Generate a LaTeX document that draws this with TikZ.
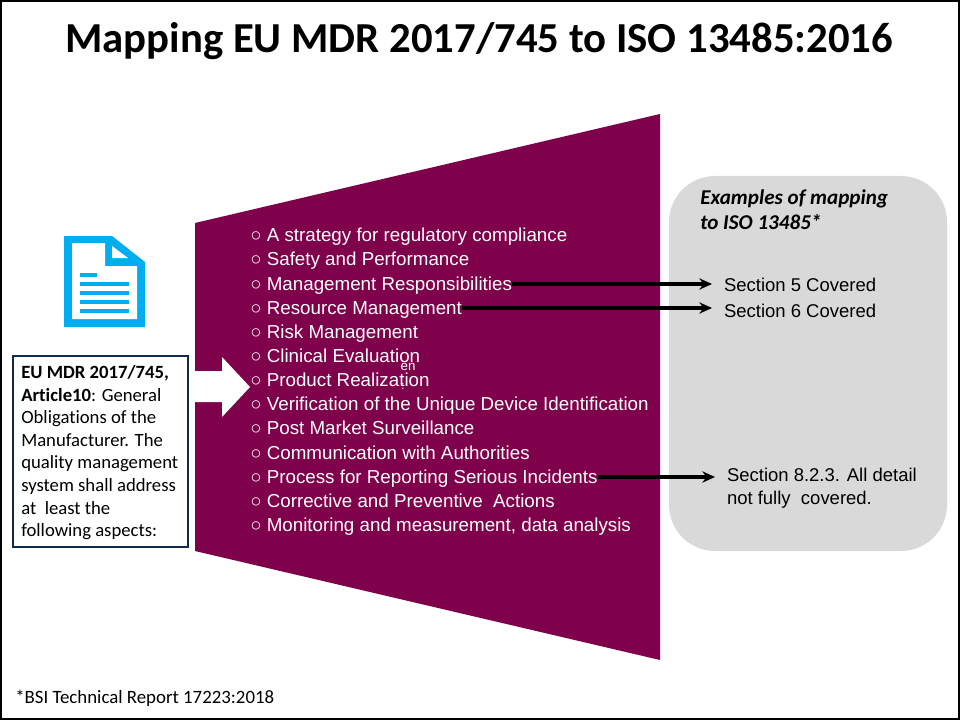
\documentclass[tikz,border=0pt]{standalone}
\usepackage{fontspec}
\setmainfont[Ligatures=NoCommon]{Carlito}
\newfontfamily\arialfont{Liberation Sans}
\usetikzlibrary{arrows.meta}
\definecolor{plum}{HTML}{7F004B}
\definecolor{iconblue}{HTML}{00AEEF}
\definecolor{boxnavy}{HTML}{0F2B4F}
\definecolor{panelgrey}{HTML}{D9D9D9}
\tikzset{
	listitem/.style={anchor=west, inner sep=0pt, text height=11.8pt, text depth=2pt, text=white, font=\arialfont\fontsize{13.35}{14}\selectfont},
	secnote/.style={anchor=west, inner sep=0pt, outer xsep=0.3cm, outer ysep=0pt, align=left, font=\arialfont\fontsize{13.15}{16.5}\selectfont},
	maplink/.style={line width=2.2pt, -{Stealth[length=9pt,width=8pt]}},
}

\begin{document}
\begin{tikzpicture}
	\useasboundingbox (0,0) rectangle (24,18);
	% Frame
	\draw[line width=1.4pt] (0.025,0.025) rectangle (23.975,17.975);

	% Title
	\node (title) at (11.98,16.975) {\fontsize{30.4}{33}\selectfont\bfseries Mapping EU MDR 2017/745 to ISO 13485:2016};

	% Funnel
	\fill[plum] (4.875,12.425) -- (16.5,15.15) -- (16.5,1.5) -- (4.875,4.225) -- cycle;
	\fill[white] (4.875,8.725) -- (5.55,8.725) -- (5.55,9.075) -- (6.25,8.325) -- (5.55,7.575) -- (5.55,7.95) -- (4.875,7.95) -- cycle;

	% Document icon
	\fill[iconblue] (1.6,12.1) -- (2.8,12.1) -- (3.625,11.45) -- (3.625,9.825) -- (1.6,9.825) -- cycle;
	\fill[white] (1.8,11.925) -- (2.625,11.925) -- (2.625,11.35) -- (3.425,11.35) -- (3.425,10.025) -- (1.8,10.025) -- cycle;
	\fill[white] (2.8,11.85) -- (3.2,11.55) -- (2.8,11.55) -- cycle;
	\fill[iconblue] (2,11.175) rectangle (2.425,11.075);
	\foreach \y in {10.95,10.725,10.5,10.275}
		\fill[iconblue] (2,\y) rectangle (3.225,\y-0.1);

	% Article box
	\node[draw=boxnavy, line width=1.4pt, minimum width=4.375cm, minimum height=4.775cm, inner sep=0pt] (article) at (2.5125,6.7125) {};
	\node[anchor=north west, inner sep=0pt, align=left, font=\fontsize{13.3}{16.1}\selectfont] (articletext) at (0.525,8.875)
		{\textbf{EU MDR 2017/745,}\\\textbf{Article10}: General\\Obligations of the\\Manufacturer. The\\quality management\\system shall address\\at\ \ least the\\following aspects:};

	% Grey panel
	\fill[panelgrey, rounded corners=1.15cm] (16.725,4.225) rectangle (23.675,13.6);
	\node[anchor=north west, inner sep=0pt, align=left, font=\fontsize{15}{18.2}\selectfont\bfseries\itshape] (panelhead) at (17.5,13.275)
		{Examples of mapping\\to ISO 13485*};

	% List
	\node[listitem] (strategy) at (6.25,12.125) {○ A strategy for regulatory compliance};
	\node[listitem] (safety) at (6.25,11.525) {○ Safety and Performance};
	\node[listitem] (mgmt) at (6.25,10.9) {○ Management Responsibilities};
	\node[listitem] (resource) at (6.25,10.3) {○ Resource Management};
	\node[listitem] (risk) at (6.25,9.7) {○ Risk Management};
	\node[listitem] (clinical) at (6.25,9.1) {○ Clinical Evaluation};
	\node[listitem] (product) at (6.25,8.5) {○ Product Realization};
	\node[listitem] (verify) at (6.25,7.9) {○ Verification of the Unique Device Identification};
	\node[listitem] (post) at (6.25,7.3) {○ Post Market Surveillance};
	\node[listitem] (comm) at (6.25,6.675) {○ Communication with Authorities};
	\node[listitem] (process) at (6.25,6.075) {○ Process for Reporting Serious Incidents};
	\node[listitem] (capa) at (6.25,5.475) {○ Corrective and Preventive\ \ Actions};
	\node[listitem] (monitor) at (6.25,4.875) {○ Monitoring and measurement, data analysis};

	% Stray text over the list
	\node[inner sep=0pt, text=white, font=\arialfont\fontsize{9.5}{9.5}\selectfont] (stray) at (10.2,8.825) {en};
	\node[inner sep=0pt, text=white, font=\arialfont\fontsize{8}{8}\selectfont] (straydot) at (10.075,8.325) {:};

	% Sections
	\node[secnote] (sec5) at (17.8,10.875) {Section 5 Covered};
	\node[secnote] (sec6) at (17.8,10.225) {Section 6 Covered};
	\node[secnote, anchor=north west] (sec8) at (17.875,6.3) {Section 8.2.3. All detail\\not fully\ \ covered.};

	% Links
	\draw[maplink] (mgmt.east) -- (mgmt.east -| sec5.west);
	\draw[maplink] (resource.east) -- (resource.east -| sec6.west);
	\draw[maplink] (process.east) -- (process.east -| sec8.west);

	% Footnote
	\node[anchor=west, inner sep=0pt, font=\fontsize{13.4}{15}\selectfont] (footnote) at (0.375,0.55) {*BSI Technical Report 17223:2018};
\end{tikzpicture}
\end{document}
